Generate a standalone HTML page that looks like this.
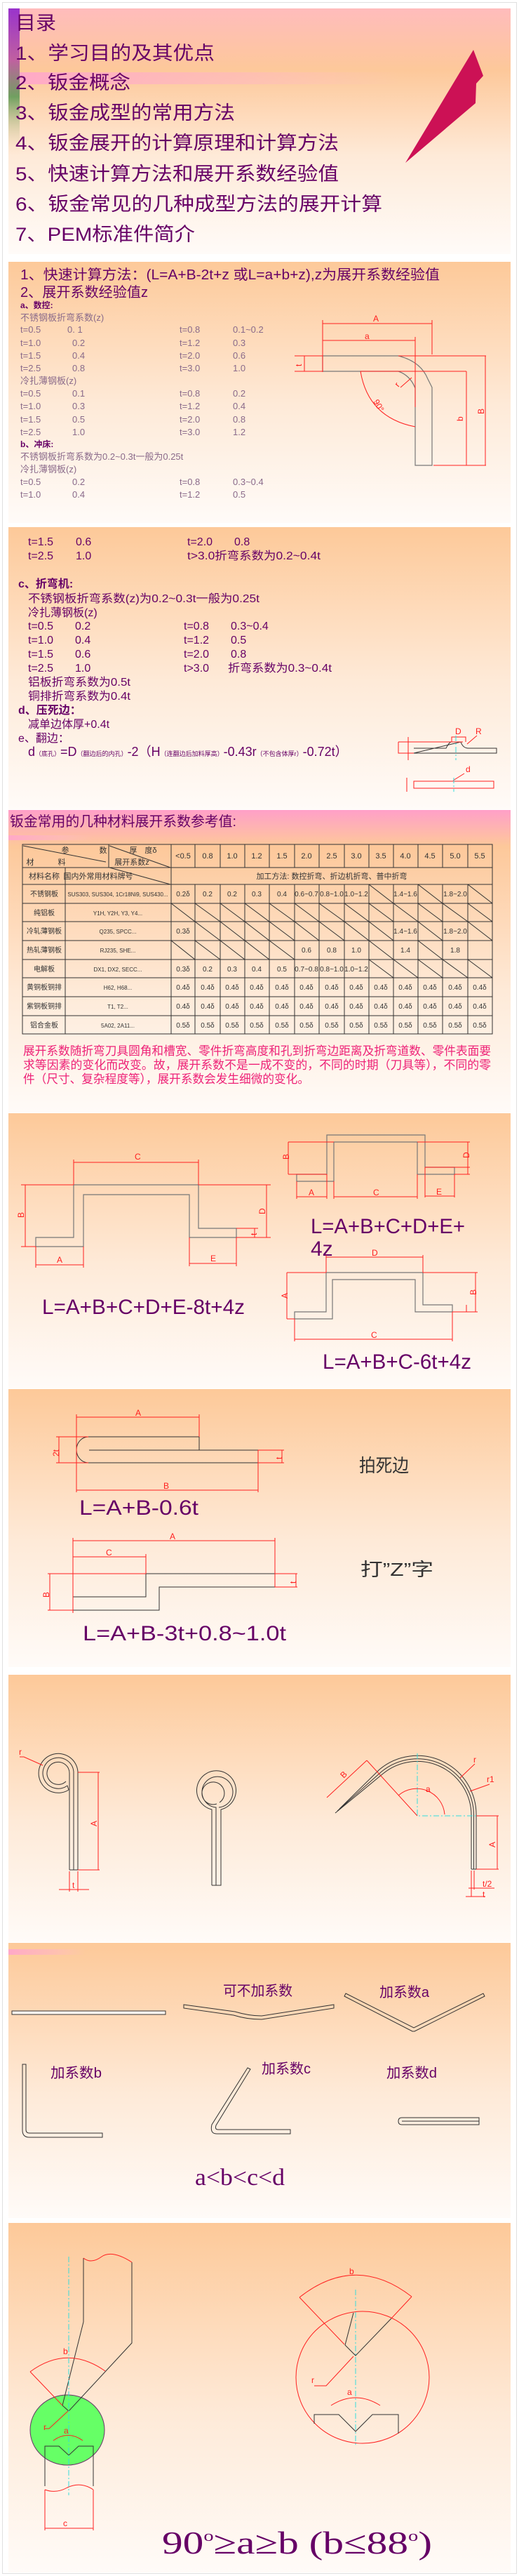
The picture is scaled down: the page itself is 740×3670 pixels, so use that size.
<!DOCTYPE html>
<html><head><meta charset="utf-8"><style>
html,body{margin:0;padding:0;background:#fff;}
svg{display:block;}
text{font-family:"Liberation Sans","Noto Sans CJK SC",sans-serif;}
.p{fill:#660066;}
.m{font-family:"Liberation Mono","Noto Sans CJK SC",monospace;fill:#8a6a8a;font-size:13px;}
.r{fill:#ff2020;font-size:12px;}
.k{stroke:#333;fill:none;stroke-width:1;}
.g{stroke:#777;fill:none;stroke-width:1.2;}
.rl{stroke:#ff2020;fill:none;stroke-width:1;}
.cy{stroke:#33dddd;fill:none;stroke-width:1;stroke-dasharray:8 3 2 3;}
.tb{font-size:10px;fill:#333;text-anchor:middle;}
.se{font-family:"Liberation Serif","Noto Serif CJK SC",serif;fill:#660066;}
</style></head><body>
<svg width="740" height="3670" viewBox="0 0 740 3670" xmlns="http://www.w3.org/2000/svg">
<defs>
<linearGradient id="bg" x1="0" y1="0" x2="0" y2="1">
<stop offset="0" stop-color="#fdc999"/><stop offset="0.55" stop-color="#feead8"/><stop offset="1" stop-color="#fffbf8"/></linearGradient>
<linearGradient id="bg1" x1="0" y1="0" x2="0" y2="1">
<stop offset="0" stop-color="#ffbcbc"/><stop offset="0.25" stop-color="#fdc89a"/><stop offset="0.6" stop-color="#feead8"/><stop offset="1" stop-color="#fffbf8"/></linearGradient>
<linearGradient id="bg4" x1="0" y1="0" x2="0" y2="1">
<stop offset="0" stop-color="#ffa0c8"/><stop offset="0.12" stop-color="#fdc89a"/><stop offset="0.6" stop-color="#feead8"/><stop offset="1" stop-color="#fffbf8"/></linearGradient>
<linearGradient id="pk" x1="0" y1="0" x2="1" y2="0">
<stop offset="0" stop-color="#ffa8c8"/><stop offset="0.6" stop-color="#ffb8c0" stop-opacity="0.6"/><stop offset="1" stop-color="#ffc0c0" stop-opacity="0"/></linearGradient>
<linearGradient id="strip" x1="0" y1="0" x2="0" y2="1">
<stop offset="0" stop-color="#9933cc"/><stop offset="0.35" stop-color="#c060a0"/><stop offset="0.6" stop-color="#70a060"/><stop offset="1" stop-color="#ffe0c0" stop-opacity="0"/></linearGradient>
</defs>
<rect x="3.5" y="3.5" width="733" height="3663" fill="#fff" stroke="#e0e0e0"/>

<!-- S1 -->
<rect x="12" y="12" width="716" height="350" fill="url(#bg1)"/>
<rect x="12" y="103" width="560" height="17" fill="url(#pk)"/>
<rect x="12" y="12" width="16" height="210" fill="url(#strip)"/>
<g class="p" font-size="27">
<text x="22" y="42" textLength="58" lengthAdjust="spacingAndGlyphs">目录</text>
<text x="22" y="85" textLength="284" lengthAdjust="spacingAndGlyphs">1、学习目的及其优点</text>
<text x="22" y="127" textLength="164" lengthAdjust="spacingAndGlyphs">2、钣金概念</text>
<text x="22" y="170" textLength="313" lengthAdjust="spacingAndGlyphs">3、钣金成型的常用方法</text>
<text x="22" y="213" textLength="461" lengthAdjust="spacingAndGlyphs">4、钣金展开的计算原理和计算方法</text>
<text x="22" y="257" textLength="461" lengthAdjust="spacingAndGlyphs">5、快速计算方法和展开系数经验值</text>
<text x="22" y="300" textLength="523" lengthAdjust="spacingAndGlyphs">6、钣金常见的几种成型方法的展开计算</text>
<text x="22" y="343" textLength="256" lengthAdjust="spacingAndGlyphs">7、PEM标准件简介</text>
</g>
<polygon points="578,232 675,71 689,108 679,119 678,147" fill="#cc1155"/>

<!-- S2 -->
<rect x="12" y="373" width="716" height="372" fill="url(#bg)"/>
<g class="p">
<text x="29" y="398" font-size="20" textLength="598" lengthAdjust="spacingAndGlyphs">1、快速计算方法：(L=A+B-2t+z 或L=a+b+z),z为展开系数经验值</text>
<text x="29" y="423" font-size="20" textLength="182" lengthAdjust="spacingAndGlyphs">2、展开系数经验值z</text>
<text x="29" y="439" font-size="12" font-weight="bold">a、数控:</text>
</g>
<g class="m">
<text x="29" y="457">不锈钢板折弯系数(z)</text>
<text x="29" y="474">t=0.5</text><text x="96" y="474">0. 1</text><text x="256" y="474">t=0.8</text><text x="332" y="474">0.1~0.2</text>
<text x="29" y="493">t=1.0</text><text x="103" y="493">0.2</text><text x="256" y="493">t=1.2</text><text x="332" y="493">0.3</text>
<text x="29" y="511">t=1.5</text><text x="103" y="511">0.4</text><text x="256" y="511">t=2.0</text><text x="332" y="511">0.6</text>
<text x="29" y="529">t=2.5</text><text x="103" y="529">0.8</text><text x="256" y="529">t=3.0</text><text x="332" y="529">1.0</text>
<text x="29" y="547">冷扎薄钢板(z)</text>
<text x="29" y="565">t=0.5</text><text x="103" y="565">0.1</text><text x="256" y="565">t=0.8</text><text x="332" y="565">0.2</text>
<text x="29" y="583">t=1.0</text><text x="103" y="583">0.3</text><text x="256" y="583">t=1.2</text><text x="332" y="583">0.4</text>
<text x="29" y="602">t=1.5</text><text x="103" y="602">0.5</text><text x="256" y="602">t=2.0</text><text x="332" y="602">0.8</text>
<text x="29" y="620">t=2.5</text><text x="103" y="620">1.0</text><text x="256" y="620">t=3.0</text><text x="332" y="620">1.2</text>
<text x="29" y="655">不锈钢板折弯系数为0.2~0.3t一般为0.25t</text>
<text x="29" y="673">冷扎薄钢板(z)</text>
<text x="29" y="691">t=0.5</text><text x="103" y="691">0.2</text><text x="256" y="691">t=0.8</text><text x="332" y="691">0.3~0.4</text>
<text x="29" y="709">t=1.0</text><text x="103" y="709">0.4</text><text x="256" y="709">t=1.2</text><text x="332" y="709">0.5</text>
</g>
<text x="29" y="637" class="p" font-size="12" font-weight="bold">b、冲床:</text>
<!-- S2 diagram -->
<path class="g" d="M460 507 L568 507 Q600 515 610 540 L616 552 L616 663 L592 663 L592 553 Q585 535 568 529 L460 529 Z"/>
<path class="rl" d="M460 461 L616 461 M460 485 L592 485 M460 456 L460 530 M616 456 L616 505 M592 480 L592 580 M568 507 L693 507 M514 529 L665 529 M618 663 L693 663 M665 529 L665 663 M692 507 L692 663 M420 507 L460 507 M420 529 L460 529 M434 507 L434 529 M514 529 Q525 595 592 608 M571 552 L587 538"/>
<text x="532" y="458" class="r" font-size="16">A</text>
<text x="520" y="483" class="r" font-size="15">a</text>
<text x="660" y="600" class="r" font-size="15" transform="rotate(-90 660 600)">b</text>
<text x="690" y="590" class="r" font-size="16" transform="rotate(-90 690 590)">B</text>
<text x="430" y="522" class="r" font-size="13" transform="rotate(-90 430 522)">t</text>
<text x="532" y="572" class="r" font-size="14" transform="rotate(60 532 572)">90°</text>
<text x="568" y="552" class="r" font-size="13" transform="rotate(-50 568 552)">r</text>

<!-- S3 -->
<rect x="12" y="751" width="716" height="402" fill="url(#bg)"/>
<g class="p" font-size="16">
<text x="40" y="777">t=1.5</text><text x="108" y="777">0.6</text><text x="267" y="777">t=2.0</text><text x="334" y="777">0.8</text>
<text x="40" y="797">t=2.5</text><text x="108" y="797">1.0</text><text x="267" y="797" textLength="190" lengthAdjust="spacingAndGlyphs">t&gt;3.0折弯系数为0.2~0.4t</text>
<text x="26" y="837" font-weight="bold">c、折弯机:</text>
<text x="40" y="858" textLength="330" lengthAdjust="spacingAndGlyphs">不锈钢板折弯系数(z)为0.2~0.3t一般为0.25t</text>
<text x="40" y="878">冷扎薄钢板(z)</text>
<text x="40" y="897">t=0.5</text><text x="107" y="897">0.2</text><text x="262" y="897">t=0.8</text><text x="329" y="897">0.3~0.4</text>
<text x="40" y="917">t=1.0</text><text x="107" y="917">0.4</text><text x="262" y="917">t=1.2</text><text x="329" y="917">0.5</text>
<text x="40" y="937">t=1.5</text><text x="107" y="937">0.6</text><text x="262" y="937">t=2.0</text><text x="329" y="937">0.8</text>
<text x="40" y="957">t=2.5</text><text x="107" y="957">1.0</text><text x="262" y="957">t&gt;3.0</text><text x="325" y="957" textLength="148" lengthAdjust="spacingAndGlyphs">折弯系数为0.3~0.4t</text>
<text x="40" y="977" textLength="146" lengthAdjust="spacingAndGlyphs">铝板折弯系数为0.5t</text>
<text x="40" y="997" textLength="146" lengthAdjust="spacingAndGlyphs">铜排折弯系数为0.4t</text>
<text x="26" y="1017" font-weight="bold">d、压死边：</text>
<text x="40" y="1037">减单边体厚+0.4t</text>
<text x="26" y="1057">e、翻边：</text>
<text x="40" y="1077" font-size="18">d<tspan font-size="9">（底孔）</tspan>=D<tspan font-size="9">（翻边后的内孔）</tspan>-2（H<tspan font-size="9">（连翻边后加料厚高）</tspan>-0.43r<tspan font-size="9">（不包含体厚r）</tspan>-0.72t）</text>
</g>
<path class="k" d="M590 1066 L636 1066 Q640 1058 643 1057 L644 1057 M657 1057 Q660 1066 668 1066 L708 1066 L708 1073 L590 1073 Z"/>
<path class="rl" d="M568 1057 L660 1057 M568 1057 L568 1073 L590 1073 M582 1050 L582 1083 M644 1057 L644 1050 L664 1050 L664 1057 M666 1060 L680 1048 M590 1113 L704 1113 L704 1123 L590 1123 Z M580 1108 L580 1128 M646 1112 L662 1102"/>
<path class="cy" d="M650 1048 L650 1083 M647 1108 L647 1128"/>
<text x="649" y="1046" class="r" font-size="10">D</text><text x="678" y="1046" class="r" font-size="10">R</text><text x="664" y="1100" class="r" font-size="10">d</text>

<!-- S4 -->
<rect x="12" y="1154" width="716" height="431" fill="url(#bg4)"/>
<rect x="12" y="1190" width="120" height="7" fill="url(#pk)"/>
<text x="14" y="1177" class="p" font-size="20" textLength="323" lengthAdjust="spacingAndGlyphs">钣金常用的几种材料展开系数参考值:</text>
<g stroke="#333" stroke-width="1" fill="none">
<rect x="32" y="1203" width="670" height="270"/>
<path d="M32 1236H702 M244 1260H702 M32 1260H244 M32 1287H702 M32 1313H702 M32 1340H702 M32 1367H702 M32 1393H702 M32 1420H702 M32 1447H702"/>
<path d="M93 1236V1473 M244 1203V1473 M155 1203V1236 M278 1203V1236 M314 1203V1236 M349 1203V1236 M384 1203V1236 M420 1203V1236 M455 1203V1236 M491 1203V1236 M526 1203V1236 M561 1203V1236 M596 1203V1236 M631 1203V1236 M667 1203V1236"/>
<path d="M278 1260V1473 M314 1260V1473 M349 1260V1473 M384 1260V1473 M420 1260V1473 M455 1260V1473 M491 1260V1473 M526 1260V1473 M561 1260V1473 M596 1260V1473 M631 1260V1473 M667 1260V1473"/>
<path d="M33 1205 L151 1228 M156 1205 L243 1236 M156 1236 L243 1260"/>
<path d="M526 1260L561 1287 M596 1260L631 1287 M667 1260L702 1287
M244 1287L278 1313 M278 1287L314 1313 M314 1287L349 1313 M349 1287L384 1313 M384 1287L420 1313 M420 1287L455 1313 M455 1287L491 1313 M491 1287L526 1313 M526 1287L561 1313 M561 1287L596 1313 M596 1287L631 1313 M631 1287L667 1313 M667 1287L702 1313
M278 1313L314 1340 M314 1313L349 1340 M349 1313L384 1340 M384 1313L420 1340 M420 1313L455 1340 M455 1313L491 1340 M491 1313L526 1340 M526 1313L561 1340 M596 1313L631 1340 M667 1313L702 1340
M244 1340L278 1367 M278 1340L314 1367 M314 1340L349 1367 M349 1340L384 1367 M384 1340L420 1367 M526 1340L561 1367 M596 1340L631 1367
M526 1367L561 1393 M561 1367L596 1393 M596 1367L631 1393 M631 1367L667 1393 M667 1367L702 1393"/>
</g>
<g class="tb">
<text x="93" y="1215" font-size="11">参</text><text x="147" y="1215" font-size="11">数</text>
<text x="204" y="1215" font-size="11">厚　度δ</text>
<text x="43" y="1232" font-size="11">材</text><text x="88" y="1232" font-size="11">料</text>
<text x="188" y="1232" font-size="11">展开系数z</text>
<text x="261" y="1223" font-size="11">&lt;0.5</text><text x="296" y="1223" font-size="11">0.8</text><text x="331" y="1223" font-size="11">1.0</text><text x="366" y="1223" font-size="11">1.2</text><text x="402" y="1223" font-size="11">1.5</text><text x="437" y="1223" font-size="11">2.0</text><text x="473" y="1223" font-size="11">2.5</text><text x="508" y="1223" font-size="11">3.0</text><text x="543" y="1223" font-size="11">3.5</text><text x="578" y="1223" font-size="11">4.0</text><text x="613" y="1223" font-size="11">4.5</text><text x="649" y="1223" font-size="11">5.0</text><text x="684" y="1223" font-size="11">5.5</text>
<text x="63" y="1252" font-size="11">材料名称</text><text x="140" y="1252" font-size="11">国内外常用材料牌号</text>
<text x="473" y="1252" font-size="11">加工方法: 数控折弯、折边机折弯、普中折弯</text>
<text x="63" y="1277">不锈钢板</text><text x="168" y="1277" font-size="8">SUS303, SUS304, 1Cr18Ni9, SUS430...</text>
<text x="261" y="1277">0.2δ</text><text x="296" y="1277">0.2</text><text x="331" y="1277">0.2</text><text x="366" y="1277">0.3</text><text x="402" y="1277">0.4</text><text x="437" y="1277">0.6~0.7</text><text x="473" y="1277">0.8~1.0</text><text x="508" y="1277">1.0~1.2</text><text x="578" y="1277">1.4~1.6</text><text x="649" y="1277">1.8~2.0</text>
<text x="63" y="1304">纯铝板</text><text x="168" y="1304" font-size="8">Y1H, Y2H, Y3, Y4...</text>
<text x="63" y="1330">冷轧薄钢板</text><text x="168" y="1330" font-size="8">Q235, SPCC...</text>
<text x="261" y="1330">0.3δ</text><text x="578" y="1330">1.4~1.6</text><text x="649" y="1330">1.8~2.0</text>
<text x="63" y="1357">热轧薄钢板</text><text x="168" y="1357" font-size="8">RJ235, SHE...</text>
<text x="437" y="1357">0.6</text><text x="473" y="1357">0.8</text><text x="508" y="1357">1.0</text><text x="578" y="1357">1.4</text><text x="649" y="1357">1.8</text>
<text x="63" y="1384">电解板</text><text x="168" y="1384" font-size="8">DX1, DX2, SECC...</text>
<text x="261" y="1384">0.3δ</text><text x="296" y="1384">0.2</text><text x="331" y="1384">0.3</text><text x="366" y="1384">0.4</text><text x="402" y="1384">0.5</text><text x="437" y="1384">0.7~0.8</text><text x="473" y="1384">0.8~1.0</text><text x="508" y="1384">1.0~1.2</text>
<text x="63" y="1410">黄铜板铜排</text><text x="168" y="1410" font-size="8">H62, H68...</text>
<text x="63" y="1437">紫铜板铜排</text><text x="168" y="1437" font-size="8">T1, T2...</text>
<text x="63" y="1464">铝合金板</text><text x="168" y="1464" font-size="8">5A02, 2A11...</text>
<text x="261" y="1410">0.4δ</text><text x="296" y="1410">0.4δ</text><text x="331" y="1410">0.4δ</text><text x="366" y="1410">0.4δ</text><text x="402" y="1410">0.4δ</text><text x="437" y="1410">0.4δ</text><text x="473" y="1410">0.4δ</text><text x="508" y="1410">0.4δ</text><text x="543" y="1410">0.4δ</text><text x="578" y="1410">0.4δ</text><text x="613" y="1410">0.4δ</text><text x="649" y="1410">0.4δ</text><text x="684" y="1410">0.4δ</text>
<text x="261" y="1437">0.4δ</text><text x="296" y="1437">0.4δ</text><text x="331" y="1437">0.4δ</text><text x="366" y="1437">0.4δ</text><text x="402" y="1437">0.4δ</text><text x="437" y="1437">0.4δ</text><text x="473" y="1437">0.4δ</text><text x="508" y="1437">0.4δ</text><text x="543" y="1437">0.4δ</text><text x="578" y="1437">0.4δ</text><text x="613" y="1437">0.4δ</text><text x="649" y="1437">0.4δ</text><text x="684" y="1437">0.4δ</text>
<text x="261" y="1464">0.5δ</text><text x="296" y="1464">0.5δ</text><text x="331" y="1464">0.5δ</text><text x="366" y="1464">0.5δ</text><text x="402" y="1464">0.5δ</text><text x="437" y="1464">0.5δ</text><text x="473" y="1464">0.5δ</text><text x="508" y="1464">0.5δ</text><text x="543" y="1464">0.5δ</text><text x="578" y="1464">0.5δ</text><text x="613" y="1464">0.5δ</text><text x="649" y="1464">0.5δ</text><text x="684" y="1464">0.5δ</text>
</g>
<g fill="#ee2277" font-size="17">
<text x="33" y="1503" textLength="667" lengthAdjust="spacingAndGlyphs">展开系数随折弯刀具圆角和槽宽、零件折弯高度和孔到折弯边距离及折弯道数、零件表面要</text>
<text x="33" y="1523" textLength="667" lengthAdjust="spacingAndGlyphs">求等因素的变化而改变。故，展开系数不是一成不变的，不同的时期（刀具等），不同的零</text>
<text x="33" y="1543" textLength="408" lengthAdjust="spacingAndGlyphs">件（尺寸、复杂程度等），展开系数会发生细微的变化。</text>
</g>

<!-- S5 -->
<rect x="12" y="1586" width="716" height="392" fill="url(#bg)"/>
<path class="g" d="M51 1763 H105 V1688 H283 V1750 H337 V1763 H270 V1702 H119 V1776 H51 Z"/>
<path class="rl" d="M105 1656 H283 M105 1652 V1688 M283 1652 V1688 M36 1688 V1776 M30 1688 H105 M30 1776 H51 M380 1688 V1763 M283 1688 H386 M337 1763 H386 M363 1750 V1763 M337 1750 H368 M51 1802 H119 M51 1776 V1806 M119 1776 V1806 M270 1800 H337 M270 1763 V1804 M337 1763 V1804"/>
<text x="192" y="1652" class="r">C</text><text x="34" y="1735" class="r" transform="rotate(-90 34 1735)">B</text><text x="378" y="1730" class="r" transform="rotate(-90 378 1730)">D</text><text x="81" y="1799" class="r">A</text><text x="300" y="1797" class="r">E</text><text x="366" y="1760" class="r" font-size="9" transform="rotate(-90 366 1760)">t</text>
<text x="60" y="1872" class="p" font-size="30" textLength="289" lengthAdjust="spacingAndGlyphs">L=A+B+C+D+E-8t+4z</text>
<path class="g" d="M423 1673 H466 V1617 H606 V1663 H648 V1673 H595 V1627 H476 V1683 H423 Z"/>
<path class="rl" d="M411 1627 V1673 M411 1627 H476 M411 1673 H466 M667 1627 V1673 M595 1627 H670 M648 1673 H670 M606 1663 H670 M423 1705 H466 M423 1683 V1708 M466 1673 V1708 M476 1705 H595 M476 1683 V1708 M595 1673 V1708 M606 1704 H648 M606 1663 V1706 M648 1673 V1706"/>
<text x="412" y="1652" class="r" font-size="9" transform="rotate(-90 412 1652)">B</text><text x="669" y="1650" class="r" font-size="9" transform="rotate(-90 669 1650)">D</text><text x="440" y="1703" class="r" font-size="10">A</text><text x="532" y="1703" class="r" font-size="10">C</text><text x="622" y="1702" class="r" font-size="10">E</text>
<text x="443" y="1757" class="p" font-size="30" textLength="220" lengthAdjust="spacingAndGlyphs">L=A+B+C+D+E+</text>
<text x="443" y="1789" class="p" font-size="30">4z</text>
<path class="g" d="M420 1869 H465 V1813 H603 V1859 H645 V1869 H592 V1823 H474 V1879 H420 Z"/>
<path class="rl" d="M465 1791 H603 M465 1788 V1813 M603 1788 V1813 M409 1813 V1879 M409 1813 H465 M409 1879 H420 M678 1813 V1869 M603 1813 H681 M645 1869 H681 M665 1859 V1869 M420 1908 H645 M420 1879 V1911 M645 1869 V1911"/>
<text x="530" y="1789" class="r" font-size="10">D</text><text x="410" y="1850" class="r" font-size="10" transform="rotate(-90 410 1850)">A</text><text x="679" y="1845" class="r" font-size="9" transform="rotate(-90 679 1845)">B</text><text x="529" y="1906" class="r" font-size="10">C</text>
<text x="460" y="1950" class="p" font-size="30" textLength="212" lengthAdjust="spacingAndGlyphs">L=A+B+C-6t+4z</text>

<!-- S6 -->
<rect x="12" y="1979" width="716" height="396" fill="url(#bg)"/>
<path class="k" d="M126 2047 H284 V2066 M127 2066 H368 V2084 H126 M126 2047 A17 18.5 0 0 0 126 2084"/>
<path class="rl" d="M109 2019 H284 M109 2015 V2126 M284 2015 V2047 M109 2123 H368 M368 2066 V2126 M84 2047 V2084 M80 2047 H126 M80 2084 H126 M402 2066 V2084 M368 2066 H405 M368 2084 H405"/>
<text x="193" y="2017" class="r" font-size="15">A</text><text x="233" y="2121" class="r" font-size="15">B</text><text x="84" y="2075" class="r" font-size="13" transform="rotate(-90 84 2075)">2t</text><text x="402" y="2079" class="r" font-size="11" transform="rotate(-90 402 2079)">t</text>
<text x="512" y="2097" fill="#333" font-size="26" font-family="'Noto Serif CJK SC',serif" textLength="71" lengthAdjust="spacingAndGlyphs">拍死边</text>
<text x="113" y="2158" class="p" font-size="30" textLength="170" lengthAdjust="spacingAndGlyphs">L=A+B-0.6t</text>
<path class="k" d="M208 2242 H392 V2261 H227 V2294 H104 M104 2275 H208 V2242"/>
<path class="rl" d="M104 2195 H392 M104 2191 V2298 M392 2191 V2261 M104 2218 H208 M208 2214 V2242 M71 2242 V2294 M68 2242 H208 M68 2294 H104 M422 2242 V2261 M392 2242 H424 M392 2261 H424"/>
<text x="242" y="2193" class="r" font-size="15">A</text><text x="151" y="2216" class="r" font-size="15">C</text><text x="70" y="2276" class="r" font-size="14" transform="rotate(-90 70 2276)">B</text><text x="422" y="2256" class="r" font-size="11" transform="rotate(-90 422 2256)">t</text>
<text x="514" y="2245" fill="#333" font-size="26" font-family="'Noto Serif CJK SC',serif" textLength="104" lengthAdjust="spacingAndGlyphs">打”Z”字</text>
<text x="118" y="2337" class="p" font-size="30" textLength="290" lengthAdjust="spacingAndGlyphs">L=A+B-3t+0.8~1.0t</text>

<!-- S7 -->
<rect x="12" y="2386" width="716" height="381" fill="url(#bg)"/>
<path class="k" d="M99 2664 V2527 M105 2664 V2524 M111 2664 V2524 M99 2664 H111 M111 2524 A28 28 0 1 0 98 2550 M105 2524 A22 22 0 1 0 96 2544 L98 2550 M99 2527 A16 16 0 1 0 94 2538"/>
<path class="rl" d="M140 2525 V2664 M111 2525 H142 M111 2664 H142 M84 2692 H127 M99 2666 V2695 M111 2666 V2695 M28 2503 H34 L61 2515"/>
<text x="138" y="2602" class="r" font-size="18" transform="rotate(-90 138 2602)">A</text><text x="27" y="2500" class="r" font-size="13">r</text><text x="103" y="2690" class="r" font-size="14">t</text>
<path class="k" d="M302 2686 V2578 A28 28 0 1 1 315 2578 V2686 H302 M308 2686 V2575 A22 22 0 1 1 312 2575 M309 2570 A16 16 0 1 1 313 2568"/>
<path class="k" d="M672 2663 V2587 A77 77 0 0 0 546 2527 L478 2583 M675.5 2663 V2587 A80.5 80.5 0 0 0 544 2524 L481 2580 M679 2663 V2587 A84 84 0 0 0 541 2521 L484 2577 M672 2663 H679"/>
<path class="cy" d="M595 2498 V2587 H679"/>
<path class="rl" d="M709 2587 V2663 M679 2587 H711 M679 2663 H711 M523 2508 L466 2561 M523 2508 L595 2587 M568 2558 A40 40 0 0 1 634 2585 M656 2533 L677 2513 M670 2552 L698 2542 M668 2690 H705 M672 2665 V2702 M676 2665 V2692 M664 2702 H692"/>
<text x="706" y="2632" class="r" font-size="12" transform="rotate(-90 706 2632)">A</text><text x="490" y="2534" class="r" font-size="12" transform="rotate(-45 490 2534)">B</text><text x="607" y="2553" class="r" font-size="12">a</text><text x="675" y="2511" class="r" font-size="12">r</text><text x="694" y="2539" class="r" font-size="12">r1</text><text x="688" y="2688" class="r" font-size="12">t/2</text><text x="688" y="2703" class="r" font-size="11">t</text>

<!-- S8 -->
<rect x="12" y="2768" width="716" height="392" fill="url(#bg)"/>
<rect x="12" y="2777" width="110" height="8" fill="url(#pk)"/>
<g fill="none" stroke="#333" stroke-width="1">
<rect x="17" y="2865" width="219" height="5" fill="#fff8f0"/>
<path d="M262 2856 L335 2866 Q355 2872 373 2872 L476 2856 L476 2861 L373 2877 Q352 2877 333 2871 L262 2861 Z"/>
<path d="M493 2840 L590 2889 L689 2840 L691 2844 L591 2894 L588 2894 L491 2844 Z"/>
<path d="M32 2941 H37 V3034 Q37 3039 42 3039 H146 V3045 H42 Q32 3045 32 3035 Z"/>
<path d="M353 2946 L357 2948 L308 3028 Q306 3034 311 3034 H414 V3040 H309 Q299 3040 302 3027 Z"/>
<path d="M683 3017 H573 Q568 3017 568 3022 Q568 3027 573 3027 H683 Z M573 3022 H683"/>
</g>
<g class="p" font-size="20">
<text x="318" y="2843" textLength="99" lengthAdjust="spacingAndGlyphs">可不加系数</text>
<text x="541" y="2845" textLength="71" lengthAdjust="spacingAndGlyphs">加系数a</text>
<text x="72" y="2960" textLength="73" lengthAdjust="spacingAndGlyphs">加系数b</text>
<text x="373" y="2954" textLength="70" lengthAdjust="spacingAndGlyphs">加系数c</text>
<text x="551" y="2960" textLength="72" lengthAdjust="spacingAndGlyphs">加系数d</text>
</g>
<text x="278" y="3113" class="se" font-size="34" textLength="128" lengthAdjust="spacingAndGlyphs">a&lt;b&lt;c&lt;d</text>

<!-- S9 -->
<rect x="12" y="3167" width="716" height="498" fill="url(#bg)"/>
<ellipse cx="96" cy="3462" rx="53" ry="50" fill="#66ff66" stroke="#663366"/>
<path class="k" d="M119 3217 V3308 L89 3427 L98 3435 L188 3338 V3223 M64 3542 V3485 H84 L98 3498 L112 3485 H133 V3542"/>
<path class="rl" d="M119 3217 Q130 3226 145 3215 Q160 3205 188 3223 M64 3547 Q80 3553 96 3544 Q115 3535 133 3547 M43 3379 Q96 3340 150 3378 M43 3379 L89 3427 M64 3460 L70 3460 L97 3435 M76 3477 Q97 3462 118 3477 M64 3547 V3605 M133 3547 V3605 M64 3602 H133"/>
<path class="cy" d="M98 3215 V3555"/>
<text x="90" y="3354" class="r" font-size="20">b</text><text x="62" y="3462" class="r" font-size="20">r</text><text x="91" y="3467" class="r" font-size="18">a</text><text x="90" y="3599" class="r" font-size="20">c</text>
<ellipse cx="517" cy="3387" rx="95" ry="94" fill="none" stroke="#ff2020" stroke-width="1"/>
<path class="k" d="M504 3295 L492 3341 L507 3356 L558 3303 M448 3453 V3440 H483 L507 3464 L531 3440 H568 V3467"/>
<path class="rl" d="M427 3273 L491 3340 M558 3303 L587 3272 M427 3273 Q507 3210 587 3272 M448 3399 H465 L504 3357 M472 3427 Q507 3405 542 3427"/>
<path class="cy" d="M507 3262 V3485"/>
<text x="498" y="3240" class="r" font-size="30">b</text><text x="444" y="3395" class="r" font-size="28">r</text><text x="495" y="3412" class="r" font-size="28">a</text>
<text x="231" y="3638" class="se" font-size="46" textLength="385" lengthAdjust="spacingAndGlyphs">90<tspan font-size="22" dy="-18">o</tspan><tspan dy="18">≥a≥b (b≤88</tspan><tspan font-size="22" dy="-18">o</tspan><tspan dy="18">)</tspan></text>
</svg>
</body></html>
